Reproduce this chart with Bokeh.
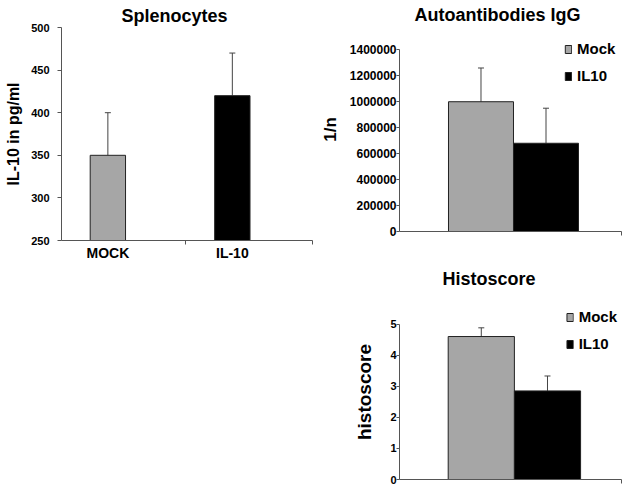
from bokeh.plotting import figure
from bokeh.layouts import row, column
from bokeh.models import (ColumnDataSource, Range1d, FixedTicker, Whisker, TeeHead,
                          NumeralTickFormatter)
from bokeh.embed import file_html
from bokeh.resources import INLINE

# ---------------- data ----------------
spl_groups = ["MOCK", "IL-10"]
spl_values = [350, 420]
spl_errors = [50, 50]
spl_ticks = [250, 300, 350, 400, 450, 500]

auto_groups = ["Mock", "IL10"]
auto_values = [1000000, 680000]
auto_errors = [260000, 270000]
auto_ticks = [0, 200000, 400000, 600000, 800000, 1000000, 1200000, 1400000]

histo_groups = ["Mock", "IL10"]
histo_values = [4.6, 2.85]
histo_errors = [0.28, 0.48]
histo_ticks = [0, 1, 2, 3, 4, 5]

bar_colors = ["#a6a6a6", "#000000"]

FONT = "Liberation Sans"
AX = "#555555"


def base_fig(width, height, xr, yr, borders):
    l, r, t, b = borders
    p = figure(width=width, height=height, x_range=xr, y_range=yr,
               output_backend="svg", toolbar_location=None,
               min_border_left=l, min_border_right=r, min_border_top=t, min_border_bottom=b)
    p.xgrid.visible = False
    p.ygrid.visible = False
    p.outline_line_color = None
    p.background_fill_color = "white"
    for ax in (p.xaxis[0], p.yaxis[0]):
        ax.axis_line_color = AX
        ax.major_tick_line_color = AX
        ax.minor_tick_line_color = AX
        ax.major_tick_in = 0
        ax.minor_tick_in = 0
        ax.major_label_text_font = FONT
        ax.major_label_text_font_style = "bold"
        ax.major_label_text_color = "black"
        ax.axis_label_text_font = FONT
        ax.axis_label_text_font_style = "bold"
        ax.axis_label_text_color = "black"
    p.title.text_font = FONT
    p.title.text_font_style = "bold"
    p.title.text_font_size = "18px"
    p.title.text_color = "black"
    p.title.align = "left"
    return p


def add_bars(p, groups, values, errors, bottom, width, legend):
    xs = [i + 1 for i in range(len(groups))]
    src = ColumnDataSource(dict(x=xs, top=values, upper=[v + e for v, e in zip(values, errors)],
                                group=groups, color=bar_colors[:len(groups)]))
    kw = dict(legend_field="group") if legend else {}
    p.vbar(x="x", top="top", bottom=bottom, width=width, fill_color="color",
           line_color="#222222", line_width=1, source=src, **kw)
    w = Whisker(source=src, base="x", lower="top", upper="upper", dimension="height",
                line_color="#444444", line_width=1, lower_head=None,
                upper_head=TeeHead(size=6, line_color="#444444", line_width=1))
    p.add_layout(w)
    return xs


def style_legend(p, location):
    lg = p.legend[0]
    lg.location = location
    lg.margin = 4
    lg.padding = 2
    lg.border_line_color = None
    lg.background_fill_alpha = 0
    lg.glyph_width = 8
    lg.glyph_height = 10
    lg.label_standoff = 5
    lg.label_height = 16
    lg.spacing = 10
    lg.label_text_font = FONT
    lg.label_text_font_style = "bold"
    lg.label_text_font_size = "15px"
    lg.label_text_color = "black"


# ---------------- Splenocytes ----------------
p1 = base_fig(314, 270, Range1d(0.6275, 2.644), Range1d(250, 500), (61, 2, 27, 30))
p1.title.text = "Splenocytes"
p1.title.offset = 60
p1.title.standoff = 4
xs1 = add_bars(p1, spl_groups, spl_values, spl_errors, 250, 0.284, False)
xa = p1.xaxis[0]
xa.ticker = FixedTicker(ticks=xs1, minor_ticks=[1.625, 2.644])
xa.major_label_overrides = {x: g for x, g in zip(xs1, spl_groups)}
xa.major_tick_line_color = None
xa.major_tick_out = 0
xa.minor_tick_out = 4
xa.major_label_standoff = 0
xa.major_label_text_font_size = "14px"
ya = p1.yaxis[0]
ya.ticker = FixedTicker(ticks=spl_ticks, minor_ticks=[])
ya.major_tick_out = 4
ya.major_label_standoff = 8
ya.major_label_text_font_size = "11px"
ya.axis_label = "IL-10 in pg/ml"
ya.axis_label_text_font_size = "16px"
ya.axis_label_standoff = 6

# ---------------- Autoantibodies IgG ----------------
p2 = base_fig(309, 250, Range1d(-0.2538, 3.1615), Range1d(0, 1572000), (85, 2, 27, 19))
p2.title.text = "Autoantibodies IgG"
p2.title.offset = 15
p2.title.standoff = 5
xs2 = add_bars(p2, auto_groups, auto_values, auto_errors, 0, 1.0, True)
style_legend(p2, (165, 147))
xa = p2.xaxis[0]
xa.ticker = FixedTicker(ticks=[], minor_ticks=[3.1615])
xa.minor_tick_out = 4
xa.major_label_text_font_size = "0px"
ya = p2.yaxis[0]
ya.ticker = FixedTicker(ticks=auto_ticks, minor_ticks=[])
ya.bounds = (auto_ticks[0], auto_ticks[-1])
ya.formatter = NumeralTickFormatter(format="0")
ya.major_tick_out = 3
ya.major_label_standoff = 0
ya.major_label_text_font_size = "12px"
ya.axis_label = "1/n"
ya.axis_label_text_font_size = "17px"
ya.axis_label_standoff = 7

# ---------------- Histoscore ----------------
p3 = base_fig(309, 237, Range1d(-0.2356, 3.118), Range1d(0, 5.63), (85, 2, 54, 8))
p3.title.text = "Histoscore"
p3.title.offset = 43
p3.title.standoff = 31
xs3 = add_bars(p3, histo_groups, histo_values, histo_errors, 0, 1.0, True)
style_legend(p3, "top_right")
xa = p3.xaxis[0]
xa.ticker = FixedTicker(ticks=[], minor_ticks=[3.118])
xa.minor_tick_out = 4
xa.major_label_text_font_size = "0px"
ya = p3.yaxis[0]
ya.ticker = FixedTicker(ticks=histo_ticks, minor_ticks=[])
ya.bounds = (histo_ticks[0], histo_ticks[-1])
ya.major_tick_out = 3
ya.major_label_standoff = 0
ya.major_label_text_font_size = "11px"
ya.axis_label = "histoscore"
ya.axis_label_text_font_size = "19px"
ya.axis_label_standoff = 12

layout = row(p1, column(p2, p3, spacing=0), spacing=0)
open("out.html", "w").write(file_html(layout, INLINE))
